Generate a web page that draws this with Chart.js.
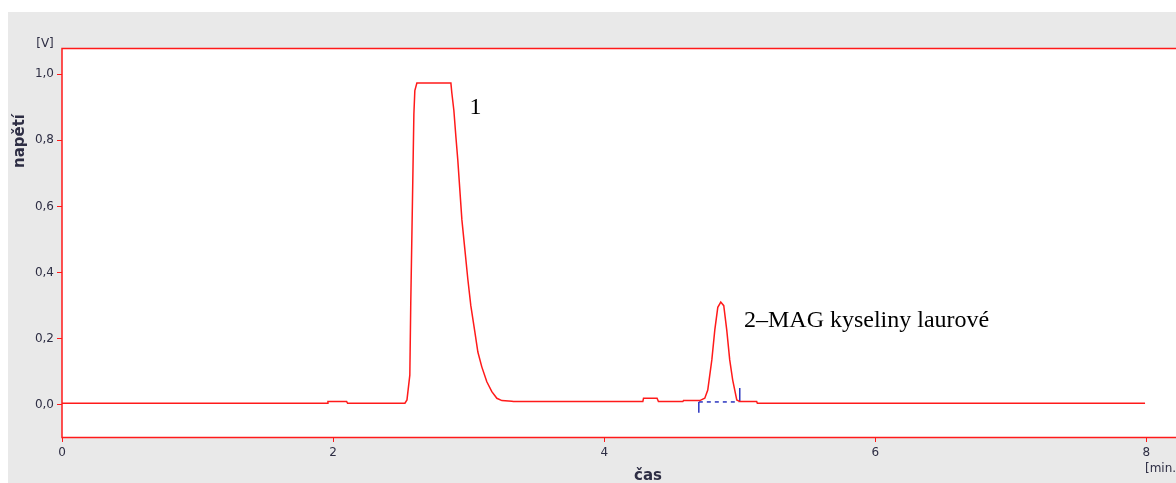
<!DOCTYPE html>
<html>
<head>
<meta charset="utf-8">
<script src="https://cdn.jsdelivr.net/npm/chart.js@4.4.1/dist/chart.umd.min.js"></script>
<style>
  html, body { margin: 0; padding: 0; background: #ffffff; overflow: hidden; }
  canvas { display: block; }
</style>
</head>
<body>
<canvas id="chrom" width="1240" height="483"></canvas>
<script>
// detector trace: time [min] and signal [V]
const timeMin = [0, 1.955, 1.962, 2.10, 2.107, 2.53, 2.545, 2.566, 2.573, 2.588, 2.596, 2.603, 2.618,
  2.869, 2.876, 2.891, 2.906, 2.920, 2.935, 2.950, 2.972, 2.994, 3.016, 3.046, 3.068, 3.097,
  3.134, 3.171, 3.208, 3.245, 3.319, 3.33, 4.285, 4.29, 4.39, 4.40, 4.58, 4.585, 4.705,
  4.742, 4.764, 4.794, 4.816, 4.838, 4.86, 4.882, 4.904, 4.926, 4.948, 4.978, 5.0, 5.125,
  5.13, 7.99];
const signalV = [0.005, 0.005, 0.01, 0.01, 0.005, 0.005, 0.015, 0.09, 0.31, 0.68, 0.88, 0.95, 0.973,
  0.973, 0.943, 0.89, 0.81, 0.74, 0.65, 0.56, 0.47, 0.38, 0.30, 0.22, 0.16, 0.115,
  0.07, 0.04, 0.02, 0.013, 0.011, 0.01, 0.01, 0.02, 0.02, 0.01, 0.01, 0.013, 0.013,
  0.02, 0.045, 0.136, 0.227, 0.295, 0.311, 0.30, 0.227, 0.136, 0.075, 0.015, 0.01, 0.01,
  0.005, 0.005];

// integration baseline of peak 2 and its start / end markers
const baseTime = [4.698, 4.995];
const baseV = [0.009, 0.009];
const startMarkTime = [4.698, 4.698];
const startMarkV = [0.009, -0.024];
const endMarkTime = [5.0, 5.0];
const endMarkV = [0.009, 0.051];

const xTicks = [0, 2, 4, 6, 8];
const yTicks = [0, 0.2, 0.4, 0.6, 0.8, 1.0];

const peakLabels = [
  { text: '1', t: 3.006, v: 0.879 },
  { text: '2\u2013MAG kyseliny laurov\u00e9', t: 5.031, v: 0.236 }
];

const RED = '#ff1a1a';
const INK = '#2e2e44';

const toPoints = (xs, ys) => xs.map((x, i) => ({ x: x, y: ys[i] }));

const framePlugin = {
  id: 'frame',
  beforeDraw(chart) {
    const { ctx, chartArea: a } = chart;
    ctx.save();
    ctx.fillStyle = '#e9e9e9';
    ctx.fillRect(8, 12, chart.width - 8, chart.height - 12);
    ctx.fillStyle = '#ffffff';
    ctx.fillRect(a.left, a.top, a.right - a.left, a.bottom - a.top);
    ctx.restore();
  },
  afterDraw(chart) {
    const { ctx, chartArea: a, scales } = chart;
    ctx.save();
    ctx.strokeStyle = RED;
    ctx.lineWidth = 1.5;
    ctx.strokeRect(a.left, a.top + 0.5, a.right - a.left + 5, a.bottom - a.top);

    // axis units and titles
    ctx.fillStyle = INK;
    ctx.font = '12px "DejaVu Sans"';
    ctx.textBaseline = 'middle';
    ctx.textAlign = 'center';
    ctx.fillText('[V]', 45, 44);
    ctx.textAlign = 'left';
    ctx.fillText('[min.]', 1145, 469);

    ctx.font = 'bold 15px "DejaVu Sans"';
    ctx.textAlign = 'center';
    ctx.textBaseline = 'top';
    ctx.fillText('\u010das', 648, 469);
    ctx.save();
    ctx.translate(20, 141);
    ctx.rotate(-Math.PI / 2);
    ctx.textBaseline = 'middle';
    ctx.fillText('nap\u011bt\u00ed', 0, 0);
    ctx.restore();

    // peak annotations
    ctx.fillStyle = '#000000';
    ctx.font = '24px "Liberation Serif"';
    ctx.textAlign = 'left';
    ctx.textBaseline = 'alphabetic';
    peakLabels.forEach(p => {
      ctx.fillText(p.text, scales.x.getPixelForValue(p.t), scales.y.getPixelForValue(p.v));
    });
    ctx.restore();
  }
};

const ctx = document.getElementById('chrom').getContext('2d');
const chart = new Chart(ctx, {
  type: 'scatter',
  data: {
    datasets: [
      {
        data: toPoints(timeMin, signalV),
        showLine: true,
        borderColor: RED,
        borderWidth: 1.5,
        pointRadius: 0,
        tension: 0
      },
      {
        data: toPoints(baseTime, baseV),
        showLine: true,
        borderColor: '#2b35c0',
        borderWidth: 1.5,
        borderDash: [4, 4],
        pointRadius: 0
      },
      {
        data: toPoints(startMarkTime, startMarkV),
        showLine: true,
        borderColor: '#2b35c0',
        borderWidth: 1.5,
        pointRadius: 0
      },
      {
        data: toPoints(endMarkTime, endMarkV),
        showLine: true,
        borderColor: '#2b35c0',
        borderWidth: 1.5,
        pointRadius: 0
      }
    ]
  },
  options: {
    responsive: false,
    animation: false,
    devicePixelRatio: 1,
    layout: { padding: { top: 48, left: 0, right: 0, bottom: 0 } },
    plugins: {
      legend: { display: false },
      tooltip: { enabled: false }
    },
    scales: {
      x: {
        type: 'linear',
        min: 0,
        max: 8.6905,
        afterBuildTicks: s => { s.ticks = xTicks.map(v => ({ value: v })); },
        afterFit: s => { s.height = 46; },
        border: { display: false },
        grid: { drawOnChartArea: false, drawTicks: true, tickLength: 5, color: RED, lineWidth: 1 },
        ticks: {
          padding: 4,
          maxRotation: 0,
          color: INK,
          font: { family: 'DejaVu Sans', size: 12 },
          callback: v => String(v)
        }
      },
      y: {
        type: 'linear',
        min: -0.097,
        max: 1.079,
        afterBuildTicks: s => { s.ticks = yTicks.map(v => ({ value: v })); },
        afterFit: s => { s.width = 62; },
        border: { display: false },
        grid: { drawOnChartArea: false, drawTicks: true, tickLength: 5, color: RED, lineWidth: 1 },
        ticks: {
          padding: 3,
          color: INK,
          font: { family: 'DejaVu Sans', size: 12 },
          callback: v => v.toFixed(1).replace('.', ',')
        }
      }
    }
  },
  plugins: [framePlugin]
});
</script>
</body>
</html>
